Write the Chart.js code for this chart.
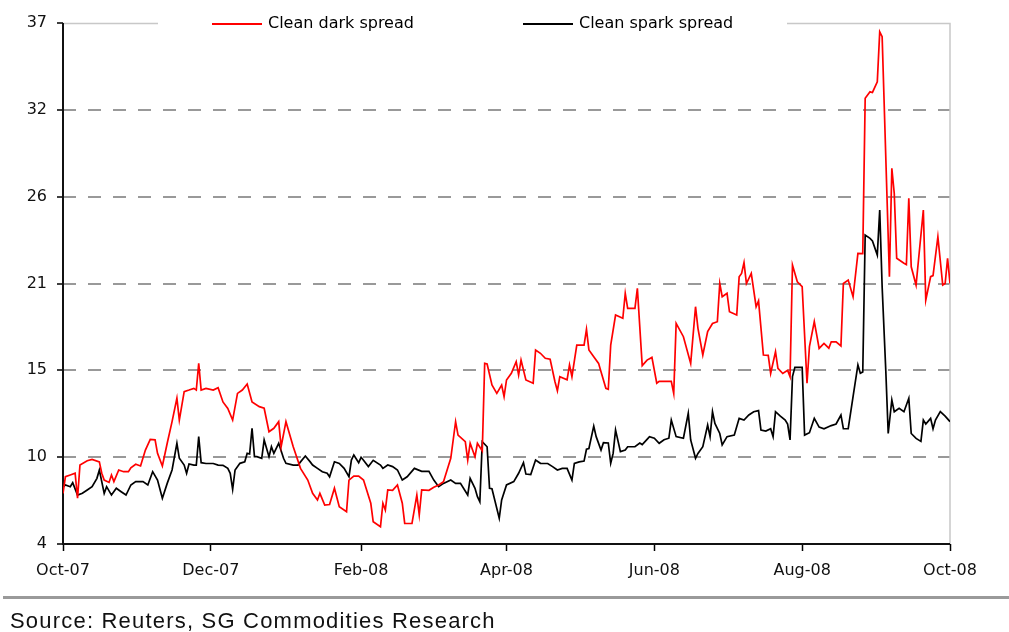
<!DOCTYPE html>
<html>
<head>
<meta charset="utf-8">
<script src="https://cdn.jsdelivr.net/npm/chart.js@4.4.1/dist/chart.umd.min.js"></script>
<style>
  html, body { margin: 0; padding: 0; background: #fff; }
  #wrap { position: relative; width: 1009px; height: 632px; overflow: hidden; }
  #c { position: absolute; left: 0; top: 0; }
  #rule { position: absolute; left: 3px; right: 0; top: 596px; height: 3px; background: #9a9a9a; }
  #src { position: absolute; left: 10px; top: 608px; font-family: 'Liberation Sans', Arial, sans-serif;
         font-size: 22px; letter-spacing: 1.2px; color: #111; white-space: nowrap; }
</style>
</head>
<body>
<div id="wrap">
  <canvas id="c" width="1009" height="632"></canvas>
  <div id="rule"></div>
  <div id="src">Source: Reuters, SG Commodities Research</div>
</div>
<script>
// ---- data (x = days since 1 Oct 2007) ----
const monthTickDays = [0, 61, 123, 183, 244, 305, 366];
const monthTickLabels = ['Oct-07', 'Dec-07', 'Feb-08', 'Apr-08', 'Jun-08', 'Aug-08', 'Oct-08'];
const yTickValues = [4, 9.5, 15, 20.5, 26, 31.5, 37];
const yTickLabels = ['4', '10', '15', '21', '26', '32', '37'];
const seriesLabels = ['Clean dark spread', 'Clean spark spread'];

const darkDays = [0,1,3,5,6,7,10,12,15,16,17,19,20,21,23,25,27,28,30,32,34,36,38,39,41,43,45,47,48,50,52,54,55,56,57,59,62,64,66,68,70,72,74,76,78,81,83,85,87,89,90,92,95,98,101,103,105,106,108,110,112,114,117,118,120,122,124,127,128,131,132,133,134,136,138,140,141,144,146,147,148,151,153,155,157,160,162,163,166,167,168,170,171,173,174,175,177,179,181,182,183,185,187,188,189,191,194,195,197,199,201,203,204,205,208,209,210,212,215,216,217,219,221,222,224,225,226,228,231,232,233,236,237,239,241,243,245,246,249,251,252,253,256,259,261,262,264,266,268,270,271,272,274,275,278,279,280,281,282,284,286,287,289,291,292,294,295,297,299,300,301,303,305,307,308,310,311,312,314,316,317,319,321,322,324,326,328,330,331,333,334,336,337,338,341,342,343,344,347,348,349,350,352,353,355,356,358,359,361,363,364,365,366];
const darkValues = [7.2,8.26,8.37,8.48,6.9,9.0,9.27,9.36,9.2,8.48,8.05,7.9,8.37,7.95,8.69,8.58,8.58,8.83,9.05,8.94,9.95,10.63,10.6,9.74,8.94,10.38,11.75,13.23,11.85,13.65,13.75,13.86,13.75,15.44,13.75,13.86,13.75,13.9,13.0,12.59,11.85,13.54,13.75,14.13,13.0,12.7,12.6,11.11,11.33,11.75,10.16,11.75,10.16,8.79,8.05,7.21,6.79,7.21,6.47,6.5,7.53,6.36,6.05,8.05,8.3,8.3,8.05,6.58,5.41,5.1,6.58,6.15,7.42,7.4,7.74,6.58,5.31,5.3,7.1,5.84,7.42,7.4,7.59,7.74,7.95,9.43,11.75,10.9,10.48,9.32,10.38,9.53,10.38,9.9,15.44,15.4,14.07,13.54,14.07,13.33,14.39,14.81,15.55,14.7,15.65,14.39,14.18,16.29,16.08,15.76,15.7,14.28,13.71,14.6,14.4,15.34,14.6,16.6,16.6,17.6,16.29,15.86,15.44,14.91,13.86,13.8,16.6,18.5,18.3,19.88,18.93,18.93,20.2,15.3,15.65,15.82,14.18,14.3,14.3,14.3,13.54,17.97,17.13,15.44,19.03,17.66,15.97,17.45,17.97,18.08,20.5,19.66,19.88,18.71,18.5,20.93,21.14,21.82,20.5,21.14,19.03,19.4,15.97,15.95,14.81,16.18,15.13,14.8,15.0,14.6,21.67,20.61,20.3,14.18,16.5,18.08,17.24,16.39,16.7,16.4,16.81,16.8,16.54,20.5,20.72,19.66,22.41,22.4,32.23,32.64,32.6,33.28,36.44,36.13,20.93,27.8,26.2,22.1,21.78,21.7,25.9,21.56,20.4,21.99,25.15,19.45,20.93,21.0,23.46,20.4,20.5,22.1,20.5];

const sparkDays = [0,1,3,4,6,8,10,12,14,15,17,18,20,22,24,26,28,30,33,35,37,39,41,43,45,47,48,50,51,52,54,55,56,57,59,62,64,66,68,69,70,71,73,75,76,77,78,79,80,82,83,85,86,87,89,91,92,95,97,98,100,102,103,105,107,109,110,112,114,116,118,119,120,122,123,124,126,128,131,132,134,136,138,140,142,145,148,151,153,155,157,160,162,164,167,168,170,171,172,173,175,176,177,180,181,183,186,188,190,191,193,195,197,200,202,204,206,208,210,211,213,215,216,217,219,220,222,223,225,226,227,228,230,232,233,236,238,239,241,242,244,246,248,250,251,253,256,258,259,261,262,264,266,267,268,269,271,272,274,277,279,281,283,285,287,288,290,292,293,294,296,298,299,300,301,302,305,306,308,310,312,314,317,319,321,322,324,326,328,329,330,331,333,334,336,337,338,339.5,340.5,342,343,345,347,349,350,352,354,355,356,358,359,360,362,364,366];
const sparkValues = [7.63,7.74,7.63,7.88,7.1,7.21,7.42,7.63,8.16,8.69,7.21,7.63,7.1,7.53,7.31,7.1,7.74,7.95,7.95,7.74,8.58,8.05,6.9,7.84,8.69,10.38,9.43,9.0,8.48,9.07,9.0,9.0,10.8,9.15,9.1,9.1,9.0,8.98,8.79,8.48,7.46,8.69,9.11,9.21,9.74,9.7,11.33,9.53,9.53,9.43,10.59,9.53,10.16,9.74,10.38,9.43,9.11,9.0,9.0,9.2,9.57,9.2,9.0,8.79,8.58,8.48,8.26,9.21,9.1,8.79,8.26,9.32,9.64,9.15,9.49,9.3,8.9,9.3,9.0,8.79,9.0,8.9,8.69,8.05,8.26,8.79,8.6,8.6,8.05,7.63,7.84,8.05,7.84,7.84,7.1,8.16,7.53,7.0,6.68,10.48,10.16,7.53,7.5,5.63,6.79,7.74,7.95,8.48,9.15,8.43,8.4,9.32,9.11,9.1,8.9,8.69,8.79,8.79,8.05,9.11,9.2,9.25,10.0,10.05,11.47,10.8,9.95,10.42,10.4,9.11,9.74,11.22,9.85,9.95,10.16,10.16,10.4,10.3,10.63,10.8,10.7,10.38,10.6,10.7,11.85,10.8,10.7,12.28,10.59,9.43,9.74,10.16,11.54,10.8,12.38,11.64,11.0,10.27,10.8,10.9,11.96,11.85,12.17,12.38,12.45,11.22,11.15,11.3,10.8,12.38,12.1,11.85,11.6,10.59,14.6,15.19,15.19,10.9,11.05,11.96,11.4,11.3,11.5,11.6,12.17,11.3,11.3,13.33,15.34,14.81,14.9,23.57,23.36,23.2,22.3,25.15,20.3,15.0,11.0,13.12,12.38,12.6,12.38,13.23,11.0,10.69,10.5,11.85,11.6,11.96,11.3,11.85,12.38,12.1,11.75];

const seriesColors = ['#ff0000', '#000000'];

// ---- chart ----
Chart.defaults.font.family = "'DejaVu Sans', sans-serif";
Chart.defaults.font.size = 16;
Chart.defaults.color = '#111';

const toPoints = (xs, ys) => xs.map((x, i) => ({ x: x, y: ys[i] }));

const framePlugin = {
  id: 'frame',
  beforeDatasetsDraw(chart) {
    const { ctx, chartArea: a } = chart;
    ctx.save();
    ctx.setLineDash([]);
    // light frame on top and right
    ctx.strokeStyle = '#c8c8c8';
    ctx.lineWidth = 1.5;
    ctx.beginPath();
    ctx.moveTo(a.left, a.top + 0.5);
    ctx.lineTo(a.right, a.top + 0.5);
    ctx.lineTo(a.right, a.bottom);
    ctx.stroke();
    // solid black axis lines
    ctx.strokeStyle = '#111';
    ctx.lineWidth = 2;
    ctx.beginPath();
    ctx.moveTo(a.left, a.top);
    ctx.lineTo(a.left, a.bottom);
    ctx.lineTo(a.right, a.bottom);
    ctx.stroke();
    ctx.restore();
  },
  afterDraw(chart) {
    const { ctx, chartArea: a } = chart;
    ctx.save();
    ctx.setLineDash([]);
    // legend panel covering the top frame
    ctx.fillStyle = '#ffffff';
    ctx.fillRect(a.left + 95, a.top - 10, 629, 20);
    const itemStarts = [a.left + 149, a.left + 460];
    const cy = a.top + 1;
    ctx.font = "16px 'DejaVu Sans', sans-serif";
    ctx.textBaseline = 'middle';
    ctx.textAlign = 'left';
    chart.data.datasets.forEach((ds, i) => {
      const x0 = itemStarts[i];
      ctx.strokeStyle = ds.borderColor;
      ctx.lineWidth = 2;
      ctx.beginPath();
      ctx.moveTo(x0, cy);
      ctx.lineTo(x0 + 50, cy);
      ctx.stroke();
      ctx.fillStyle = '#000';
      ctx.fillText(ds.label, x0 + 56, cy);
    });
    ctx.restore();
  }
};

new Chart(document.getElementById('c'), {
  type: 'line',
  data: {
    datasets: [
      {
        label: seriesLabels[0],
        data: toPoints(darkDays, darkValues),
        borderColor: seriesColors[0],
        backgroundColor: seriesColors[0],
        borderWidth: 1.7,
        pointRadius: 0,
        tension: 0,
        fill: false
      },
      {
        label: seriesLabels[1],
        data: toPoints(sparkDays, sparkValues),
        borderColor: seriesColors[1],
        backgroundColor: seriesColors[1],
        borderWidth: 1.7,
        pointRadius: 0,
        tension: 0,
        fill: false
      }
    ]
  },
  options: {
    responsive: false,
    animation: false,
    devicePixelRatio: 1,
    layout: { padding: { left: 0, right: 59, top: 23, bottom: 48 } },
    plugins: {
      legend: { display: false },
      tooltip: { enabled: false },
      title: { display: false }
    },
    scales: {
      x: {
        type: 'linear',
        min: 0,
        max: 366,
        afterFit: (s) => { s.height = 40; },
        afterBuildTicks: (s) => { s.ticks = monthTickDays.map(v => ({ value: v })); },
        ticks: {
          autoSkip: false,
          maxRotation: 0,
          padding: 10,
          color: '#111',
          callback: (v, i) => monthTickLabels[i]
        },
        grid: {
          drawOnChartArea: false,
          drawTicks: true,
          tickLength: 7,
          tickColor: '#000',
          tickWidth: 1.5
        },
        border: { display: false }
      },
      y: {
        type: 'linear',
        min: 4,
        max: 37,
        afterFit: (s) => { s.width = 63; },
        afterBuildTicks: (s) => { s.ticks = yTickValues.map(v => ({ value: v })); },
        ticks: {
          stepSize: 5.5,
          padding: 10,
          color: '#111',
          callback: (v, i) => yTickLabels[i]
        },
        grid: {
          color: (c) => (c.index === 0 || c.index === yTickValues.length - 1) ? 'rgba(0,0,0,0)' : '#999999',
          lineWidth: 2,
          borderDash: [13, 12],
          drawTicks: true,
          tickLength: 6,
          tickColor: '#000',
          tickWidth: 1.5,
          tickBorderDash: []
        },
        border: { display: false, dash: [13, 12] }
      }
    }
  },
  plugins: [framePlugin]
});
</script>
</body>
</html>
